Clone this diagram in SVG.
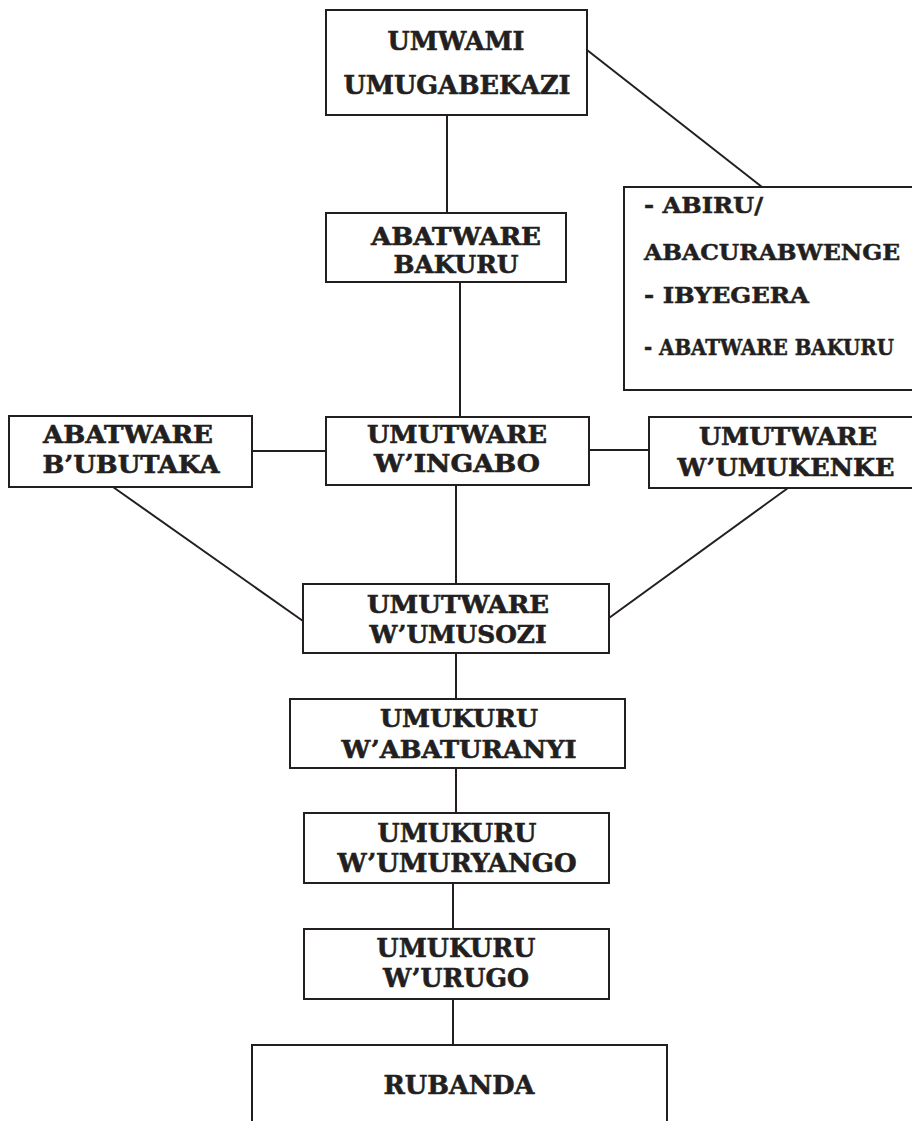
<svg xmlns="http://www.w3.org/2000/svg" width="912" height="1121" viewBox="0 0 912 1121">
<style>
.box{fill:#fff;stroke:#231f20;stroke-width:2}
.ln{stroke:#231f20;stroke-width:2;fill:none}
.t{font-family:"DejaVu Serif","Liberation Serif",serif;font-weight:bold;fill:#231f20;stroke:#231f20;stroke-width:0.6;text-anchor:middle}
.l{font-family:"DejaVu Serif","Liberation Serif",serif;font-weight:bold;fill:#231f20;stroke:#231f20;stroke-width:0.5;font-size:21.5px}
.s25{font-size:26.5px}
.s23{font-size:24px}
</style>
<rect width="912" height="1121" fill="#fff"/>
<g id="connectors">
<line class="ln" x1="447" y1="115" x2="447" y2="213"/>
<line class="ln" x1="587" y1="50" x2="762" y2="187"/>
<line class="ln" x1="460" y1="282" x2="460" y2="417"/>
<line class="ln" x1="252" y1="451" x2="326" y2="451"/>
<line class="ln" x1="589" y1="450" x2="649" y2="450"/>
<line class="ln" x1="456" y1="485" x2="456" y2="584"/>
<line class="ln" x1="113" y1="487" x2="303" y2="621"/>
<line class="ln" x1="788" y1="488" x2="609" y2="618"/>
<line class="ln" x1="456" y1="653" x2="456" y2="699"/>
<line class="ln" x1="456" y1="768" x2="456" y2="813"/>
<line class="ln" x1="453" y1="883" x2="453" y2="929"/>
<line class="ln" x1="453" y1="999" x2="453" y2="1045"/>
</g>
<g id="umwami">
<rect class="box" x="326" y="10" width="261" height="105"/>
<text class="t s25" x="456" y="50" textLength="137" lengthAdjust="spacingAndGlyphs">UMWAMI</text>
<text class="t s25" x="457" y="94" textLength="227" lengthAdjust="spacingAndGlyphs">UMUGABEKAZI</text>
</g>
<g id="abiru">
<rect class="box" x="624" y="187" width="306" height="203"/>
<text class="l" x="644" y="213" textLength="119" lengthAdjust="spacingAndGlyphs">- ABIRU/</text>
<text class="l" x="644" y="260" textLength="256" lengthAdjust="spacingAndGlyphs">ABACURABWENGE</text>
<text class="l" x="644" y="303" textLength="165" lengthAdjust="spacingAndGlyphs">- IBYEGERA</text>
<text class="l" x="644" y="355" font-size="19.5" textLength="250" lengthAdjust="spacingAndGlyphs">- ABATWARE BAKURU</text>
</g>
<g id="abatware-bakuru">
<rect class="box" x="326" y="213" width="240" height="69"/>
<text class="t s23" x="456" y="245" textLength="170" lengthAdjust="spacingAndGlyphs">ABATWARE</text>
<text class="t s23" x="456" y="273" textLength="125" lengthAdjust="spacingAndGlyphs">BAKURU</text>
</g>
<g id="abatware-bubutaka">
<rect class="box" x="9" y="416" width="243" height="71"/>
<text class="t s23" x="128" y="443" textLength="170" lengthAdjust="spacingAndGlyphs">ABATWARE</text>
<text class="t s23" x="131" y="473" textLength="177" lengthAdjust="spacingAndGlyphs">B’UBUTAKA</text>
</g>
<g id="umutware-ingabo">
<rect class="box" x="326" y="417" width="263" height="68"/>
<text class="t s23" x="457" y="443" textLength="180" lengthAdjust="spacingAndGlyphs">UMUTWARE</text>
<text class="t s23" x="457" y="472" textLength="166" lengthAdjust="spacingAndGlyphs">W’INGABO</text>
</g>
<g id="umutware-umukenke">
<rect class="box" x="649" y="417" width="281" height="71"/>
<text class="t s23" x="788" y="445" textLength="178" lengthAdjust="spacingAndGlyphs">UMUTWARE</text>
<text class="t s23" x="786" y="476" textLength="217" lengthAdjust="spacingAndGlyphs">W’UMUKENKE</text>
</g>
<g id="umutware-umusozi">
<rect class="box" x="303" y="584" width="306" height="69"/>
<text class="t s23" x="458" y="613" textLength="182" lengthAdjust="spacingAndGlyphs">UMUTWARE</text>
<text class="t s23" x="458" y="643" textLength="177" lengthAdjust="spacingAndGlyphs">W’UMUSOZI</text>
</g>
<g id="umukuru-abaturanyi">
<rect class="box" x="290" y="699" width="335" height="69"/>
<text class="t s23" x="459" y="727" textLength="158" lengthAdjust="spacingAndGlyphs">UMUKURU</text>
<text class="t s23" x="459" y="758" textLength="235" lengthAdjust="spacingAndGlyphs">W’ABATURANYI</text>
</g>
<g id="umukuru-umuryango">
<rect class="box" x="304" y="813" width="305" height="70"/>
<text class="t s25" x="457" y="842" textLength="159" lengthAdjust="spacingAndGlyphs">UMUKURU</text>
<text class="t s25" x="457" y="872" textLength="239" lengthAdjust="spacingAndGlyphs">W’UMURYANGO</text>
</g>
<g id="umukuru-urugo">
<rect class="box" x="304" y="929" width="305" height="70"/>
<text class="t s25" x="456" y="957" textLength="159" lengthAdjust="spacingAndGlyphs">UMUKURU</text>
<text class="t s25" x="456" y="987" textLength="146" lengthAdjust="spacingAndGlyphs">W’URUGO</text>
</g>
<g id="rubanda">
<rect class="box" x="252" y="1045" width="415" height="90"/>
<text class="t s25" x="459" y="1094" textLength="151" lengthAdjust="spacingAndGlyphs">RUBANDA</text>
</g>
</svg>
